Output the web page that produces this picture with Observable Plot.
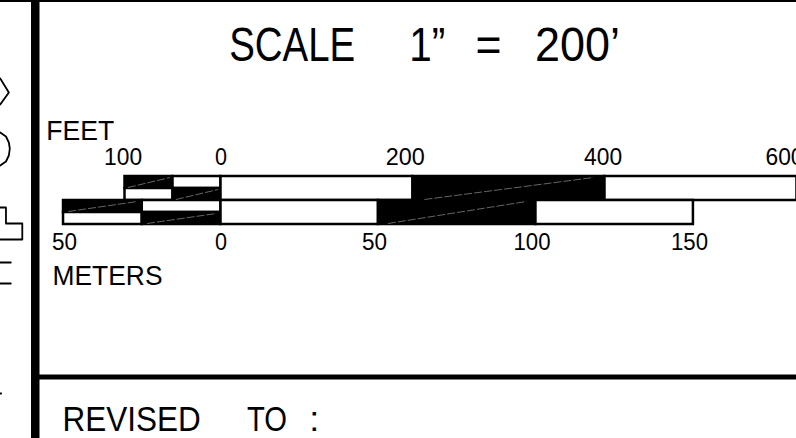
<!DOCTYPE html>
<html><head><meta charset="utf-8">
<style>html,body{margin:0;padding:0;background:#fff;overflow:hidden}svg{display:block}</style>
<script src="https://cdn.jsdelivr.net/npm/d3@7"></script>
<script src="https://cdn.jsdelivr.net/npm/@observablehq/plot@0.6"></script>
</head><body><script>
const FT_PER_M = 3.2808;
const feetSegments = [
  [-100,-50,1,176,188],[-50,0,0,176,188],
  [-100,-50,0,188,200],[-50,0,1,188,200],
  [0,200,0,176,200],[200,400,1,176,200],[400,600,0,176,200]
];
const meterSegments = [
  [-50,-25,1,200,212],[-25,0,0,200,212],
  [-50,-25,0,212,224],[-25,0,1,212,224],
  [0,50,0,200,224],[50,100,1,200,224],[100,150,0,200,224]
];
const segs = [
  ...feetSegments.map(([a,b,f,t,u])=>({a,b,f,t,u})),
  ...meterSegments.map(([a,b,f,t,u])=>({a:a*FT_PER_M,b:b*FT_PER_M,f,t,u}))
];
const feetLabels = ["100","0","200","400","600"];
const feetLabelX = [-102,0,192,398,587];
const feetLabelW = [38,12,39,38,38];
const meterLabels = ["50","0","50","100","150"];
const meterLabelX = [-163,0,160,324,488];
const meterLabelW = [25,12,25,37,37];
const ticks = [
  ...feetLabels.map((t,i)=>({t,x:feetLabelX[i],y:157,w:feetLabelW[i]})),
  ...meterLabels.map((t,i)=>({t,x:meterLabelX[i],y:242,w:meterLabelW[i]}))
];
const words = [
  {t:"SCALE",x:8.5,y:45,s:48,w:126},{t:"1”",x:196,y:45,s:48,w:36},{t:"=",x:265,y:45,s:48,w:26},{t:"200’",x:327,y:45,s:48,w:85},
  {t:"FEET",x:-182,y:131,s:28,w:68},{t:"METERS",x:-175.5,y:276,s:28,w:110},
  {t:"REVISED",x:-165,y:419,s:35,w:138},{t:"TO",x:27,y:419,s:35,w:40},{t:":",x:92,y:419,s:35,w:10}
];
const fragments = [
  [[-230,78],[-221,92],[-230,104]],
  [[-230,132],[-224,136],[-221,142],[-220,148],[-221,155],[-224,161],[-230,165]],
  [[-230,207],[-224,207],[-224,223],[-207,223],[-207,239],[-230,239]],
  [[-230,262],[-219,262]],[[-230,283],[-219,283]],
  [[-230,393],[-229,393]]
].flatMap((p,i)=>p.map(([x,y])=>({x,y,i})));
const frameV = [{x:-193.5,y1:0,y2:438}];
const frameH = [{x1:-190,x2:600,y:376.5},{x1:-230,x2:600,y:0.5}];

const fam = "Liberation Sans";
const squeeze = {render(index, scales, values, dims, ctx, next){
  const g = next(index, scales, values, dims, ctx);
  const data = this.data;
  d3.select(g).selectAll("text").each(function(i){
    const d = data[i];
    if (d) { this.setAttribute("textLength", d.w); this.setAttribute("lengthAdjust","spacingAndGlyphs"); }
  });
  return g;
}};
const chart = Plot.plot({
  width:796,height:438,margin:0,
  x:{domain:[-229.7,599.5],range:[0,796],axis:null},
  y:{domain:[0,438],range:[0,438],axis:null},
  marks:[
    Plot.rect(segs,{x1:"a",x2:"b",y1:"t",y2:"u",fill:d=>d.f?"#000":"#fff",stroke:"#000",strokeWidth:2.5}),
    Plot.link(segs.filter(d=>d.f),{x1:d=>d.a+(d.b-d.a)*.06,x2:d=>d.a+(d.b-d.a)*.94,y1:d=>d.u-1,y2:d=>d.t+1,stroke:"#aaa",strokeWidth:.6,strokeDasharray:"8 2"}),
    Plot.ruleX(frameV,{x:"x",y1:"y1",y2:"y2",stroke:"#000",strokeWidth:8.5}),
    Plot.ruleY(frameH,{y:"y",x1:"x1",x2:"x2",stroke:"#000",strokeWidth:d=>d.y>1?5:2}),
    Plot.line(fragments,{x:"x",y:"y",z:"i",stroke:"#000",strokeWidth:1.8,curve:"linear"}),
    Plot.text(ticks,{x:"x",y:"y",text:"t",fontFamily:fam,fontSize:23,fill:"#000",textAnchor:"middle",lineAnchor:"middle",...squeeze}),
    Plot.text(words,{x:"x",y:"y",text:"t",fontFamily:fam,fontSize:"s",fill:"#000",textAnchor:"start",lineAnchor:"middle",...squeeze})
  ]
});
document.body.appendChild(chart);
</script></body></html>
